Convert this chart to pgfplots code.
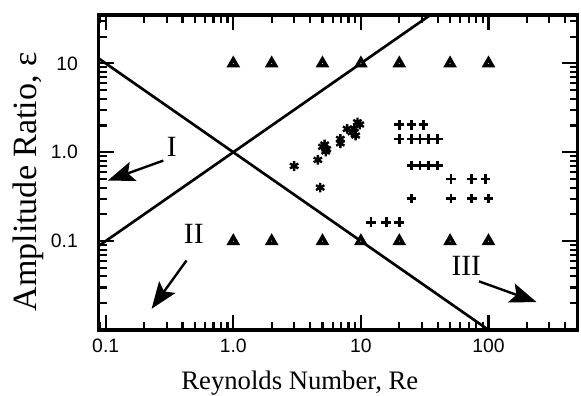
\documentclass[border=0pt]{standalone}
\usepackage{fontspec}
\setmainfont{Liberation Serif}
\setsansfont{Liberation Sans}
\usepackage{pgfplots}
\pgfplotsset{compat=1.18}
\usetikzlibrary{arrows.meta}
\begin{document}
\begin{tikzpicture}
\begin{loglogaxis}[
  scale only axis, width=359pt, height=236pt,
  xmin=0.088, xmax=500, ymin=0.01, ymax=35,
  clip mode=individual,
  axis line style={line width=2.4pt},
  tick style={line width=1.6pt, black},
  major tick length=11.5pt, minor tick length=6pt,
  xtick={0.1,1,10,100}, xticklabels={0.1,1.0,10,100},
  ytick={0.1,1,10}, yticklabels={0.1,1.0,10},
  minor xtick={0.09,0.2,0.3,0.4,0.5,0.6,0.7,0.8,0.9,2,3,4,5,6,7,8,9,20,30,40,50,60,70,80,90,200,300,400},
  minor ytick={0.02,0.03,0.04,0.05,0.06,0.07,0.08,0.09,0.2,0.3,0.4,0.5,0.6,0.7,0.8,0.9,2,3,4,5,6,7,8,9,20,30},
  tick label style={font=\sffamily\fontsize{14.5}{16}\selectfont},
  xticklabel style={yshift=-3pt},
  yticklabel style={xshift=-12pt},
  xlabel={Reynolds Number, Re},
  ylabel={Amplitude Ratio, ε},
  xlabel style={font=\fontsize{20}{24}\selectfont, at={(axis description cs:0.42,-0.168)}, anchor=center},
  ylabel style={font=\fontsize{25.5}{28}\selectfont, at={(axis description cs:-0.147,0.47)}, anchor=center},
]
\addplot[line width=2pt, no marks] coordinates {(0.088,11.36) (100,0.01)};
\addplot[line width=2pt, no marks] coordinates {(0.088,0.088) (35,35)};
% triangles
\addplot[only marks, mark=triangle*, mark size=3.3pt, mark options={fill=white, draw=black, line width=2.6pt}] coordinates {
(1,10) (2,10) (5,10) (10,10) (20,10) (50,10) (100,10)
(1,0.1) (2,0.1) (5,0.1) (10,0.1) (20,0.1) (50,0.1) (100,0.1)};
% stars
\addplot[only marks, mark=asterisk, mark size=3.6pt, mark options={line width=1.8pt}] coordinates {
(3.0,0.70) (4.6,0.82) (4.8,0.40) (5.0,1.15) (5.2,1.22) (5.4,1.08) (5.3,1.02)
(6.9,1.26) (6.9,1.41) (7.8,1.83) (8.5,1.68) (8.9,1.85) (9.1,1.54) (9.4,2.17) (9.8,2.05)};
% pluses
\addplot[only marks, mark=+, mark size=3.6pt, mark options={line width=2pt}] coordinates {
(20,2.04) (25,2.04) (31,2.04)
(20,1.41) (25,1.41) (29,1.41) (34,1.41) (40,1.41)
(25,0.71) (29,0.71) (34,0.71) (40,0.71)
(51,0.50) (74,0.50) (95,0.50)
(25,0.30) (51,0.30) (74,0.30) (100,0.30)
(12,0.163) (15.8,0.163) (20,0.163)};
% region labels and arrows
\draw[line width=1.8pt, -{Stealth[length=20pt,width=15pt,inset=4pt]}] (axis cs:0.283,0.805) -- (axis cs:0.104,0.48);
\draw[line width=1.8pt, -{Stealth[length=20pt,width=15pt,inset=4pt]}] (axis cs:0.43,0.0605) -- (axis cs:0.229,0.0173);
\draw[line width=1.8pt, -{Stealth[length=20pt,width=15pt,inset=4pt]}] (axis cs:84.4,0.0352) -- (axis cs:238,0.0206);
\node[font=\fontsize{22}{25}\selectfont] at (axis cs:0.33,1.14) {I};
\node[font=\fontsize{22}{25}\selectfont] at (axis cs:0.49,0.121) {II};
\node[font=\fontsize{22}{25}\selectfont] at (axis cs:66.9,0.053) {III};
\draw[line width=2.4pt, line join=miter] (rel axis cs:0,0) rectangle (rel axis cs:1,1);
\end{loglogaxis}
\pgfresetboundingbox
\path ([shift={(-73.9pt,-49.5pt)}]current axis.south west) rectangle ([shift={(2.5pt,11.25pt)}]current axis.north east);
\end{tikzpicture}
\end{document}
